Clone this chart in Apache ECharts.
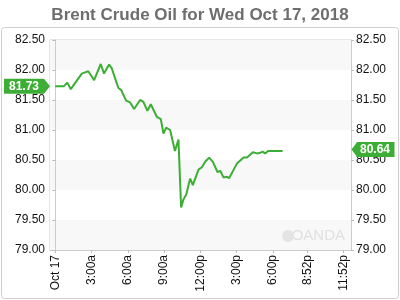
<!DOCTYPE html>
<html>
<head>
<meta charset="utf-8">
<script src="https://cdn.jsdelivr.net/npm/echarts@6/dist/echarts.min.js"></script>
<style>html,body{margin:0;padding:0;background:#fff;}#c{width:400px;height:300px;}</style>
</head>
<body>
<div id="c"></div>
<script>
// hours after midnight Oct 17
var hours = [0, 0.72, 0.99, 1.28, 1.63, 2.19, 2.46, 2.73, 3.21, 3.76, 4.03, 4.45, 4.67, 5.03, 5.22, 5.44, 5.86, 6.19, 6.52, 7.02, 7.29, 7.62, 7.90, 8.40, 8.73, 8.95, 9.17, 9.50, 9.90, 10.19, 10.41, 10.60, 10.83, 11.16, 11.38, 11.85, 12.13, 12.40, 12.73, 13.04, 13.42, 13.65, 13.92, 14.20, 14.39, 15.03, 15.58, 15.86, 16.35, 16.69, 16.96, 17.15, 17.37, 17.60, 18.81];
var prices = [81.73, 81.73, 81.79, 81.68, 81.78, 81.94, 81.96, 81.98, 81.83, 82.10, 81.94, 82.09, 82.03, 81.81, 81.70, 81.67, 81.49, 81.46, 81.35, 81.50, 81.47, 81.32, 81.43, 81.22, 81.18, 80.94, 81.04, 81.00, 80.65, 80.84, 79.71, 79.84, 79.92, 80.19, 80.08, 80.34, 80.38, 80.47, 80.54, 80.47, 80.30, 80.32, 80.21, 80.22, 80.20, 80.44, 80.54, 80.54, 80.63, 80.61, 80.62, 80.64, 80.61, 80.65, 80.65];
var tickHours = [0, 3, 6, 9, 12, 15, 18, 20.867, 23.867];
var tickLabels = ['Oct 17', '3:00a', '6:00a', '9:00a', '12:00p', '3:00p', '6:00p', '8:52p', '11:52p'];
var openPrice = 81.73;
var lastPrice = 80.64;
var xMin = -0.44, xMax = 24.47;

var green = '#3dae35';
var data = hours.map(function (h, i) { return [h, prices[i]]; });

var chart = echarts.init(document.getElementById('c'), null, {renderer: 'canvas'});
var yLabel = {fontSize: 12, color: '#111', fontFamily: 'Liberation Sans, Arial, sans-serif',
  formatter: function (v) { return v.toFixed(2); }};
chart.setOption({
  animation: false,
  title: {text: 'Brent Crude Oil for Wed Oct 17, 2018', left: 'center', top: 2,
    textStyle: {fontSize: 17, fontWeight: 'bold', color: '#6e6e6e', fontFamily: 'Liberation Sans, Arial, sans-serif'}},
  graphic: [
    {type: 'rect', shape: {x: 1.5, y: 27.5, width: 397, height: 271, r: 3}, style: {fill: 'none', stroke: '#cfcfcf', lineWidth: 1}, z: -10},
    {type: 'text', right: 55, bottom: 57, style: {text: 'OANDA', fontSize: 15, fill: '#e0e0e0', fontFamily: 'Liberation Sans, Arial, sans-serif'}, z: 1},
    {type: 'circle', right: 106, bottom: 58, shape: {r: 6}, style: {fill: '#e4e4e4'}, z: 1}
  ],
  grid: {left: 50, right: 49, top: 40, bottom: 50, show: true, borderColor: '#cccccc', borderWidth: 1},
  xAxis: {
    type: 'value', min: xMin, max: xMax,
    axisLine: {show: true, lineStyle: {color: '#cccccc'}},
    axisTick: {show: true, length: 3, lineStyle: {color: '#bbbbbb'}, customValues: tickHours},
    splitLine: {show: false},
    axisLabel: {rotate: 90, fontSize: 12, color: '#111', margin: 5, fontFamily: 'Liberation Sans, Arial, sans-serif',
      customValues: tickHours,
      formatter: function (v) {
        for (var i = 0; i < tickHours.length; i++) { if (Math.abs(tickHours[i] - v) < 1e-6) return tickLabels[i]; }
        return '';
      }}
  },
  yAxis: [
    {type: 'value', min: 79, max: 82.5, interval: 0.5, position: 'left',
      axisLine: {show: true, lineStyle: {color: '#cccccc'}},
      axisTick: {show: true, length: 3, lineStyle: {color: '#bbbbbb'}},
      splitLine: {show: false},
      splitArea: {show: true, areaStyle: {color: ['#f8f8f8', '#ffffff']}},
      axisLabel: Object.assign({margin: 5}, yLabel)},
    {type: 'value', min: 79, max: 82.5, interval: 0.5, position: 'right',
      axisLine: {show: true, lineStyle: {color: '#cccccc'}},
      axisTick: {show: true, length: 3, lineStyle: {color: '#bbbbbb'}},
      splitLine: {show: false},
      axisLabel: Object.assign({margin: 5}, yLabel)}
  ],
  series: [{
    type: 'line', data: data, yAxisIndex: 0, showSymbol: false, clip: false,
    lineStyle: {color: green, width: 2}, itemStyle: {color: green},
    markPoint: {
      silent: true,
      data: [
        {coord: [xMin, openPrice], symbol: 'path://M0,0 L40,0 L46,7.5 L40,15 L0,15 Z', symbolSize: [46, 15],
          symbolOffset: [-23, 0], symbolKeepAspect: false, itemStyle: {color: green},
          label: {show: true, formatter: openPrice.toFixed(2), color: '#fff', fontWeight: 'bold', fontSize: 12, offset: [-3, 0], fontFamily: 'Liberation Sans, Arial, sans-serif'}},
        {coord: [xMax, lastPrice], symbol: 'path://M6,0 L46,0 L46,15 L6,15 L0,7.5 Z', symbolSize: [43, 15],
          symbolOffset: [22, -2], symbolKeepAspect: false, itemStyle: {color: green},
          label: {show: true, formatter: lastPrice.toFixed(2), color: '#fff', fontWeight: 'bold', fontSize: 12, offset: [2, 0], fontFamily: 'Liberation Sans, Arial, sans-serif'}}
      ]
    }
  }]
});
</script>
</body>
</html>
